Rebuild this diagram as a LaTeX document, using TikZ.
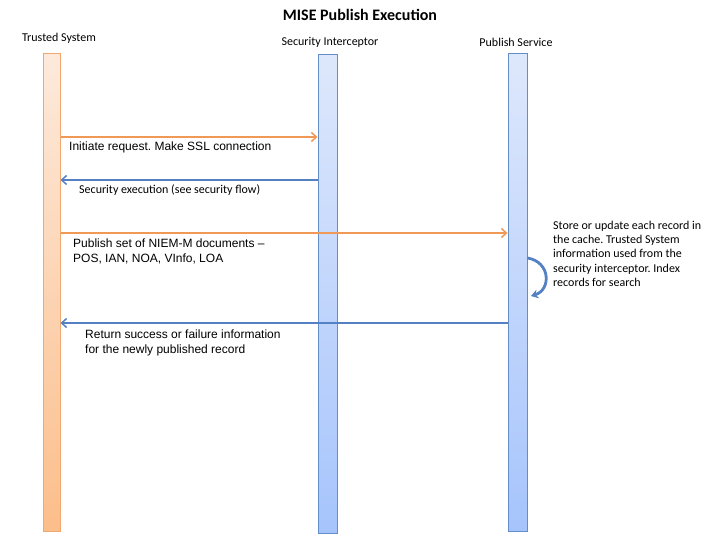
\documentclass[tikz,border=0pt]{standalone}
\usepackage{fontspec}
\setmainfont{Carlito}
\newfontfamily\arialf{Liberation Sans}
\usetikzlibrary{arrows.meta}
\frenchspacing
\definecolor{orln}{RGB}{240,152,86}
\definecolor{blln}{RGB}{84,128,196}
\definecolor{ortop}{RGB}{253,234,220}
\definecolor{orbot}{RGB}{252,190,138}
\definecolor{bltop}{RGB}{222,232,252}
\definecolor{blbot}{RGB}{166,196,252}
\begin{document}
\begin{tikzpicture}[x=1pt,y=-1pt,
  orbar/.style={draw=orln!85,line width=1pt,top color=ortop,bottom color=orbot,minimum width=17pt,inner sep=0pt,anchor=north},
  blbar/.style={draw=blln!90,line width=1pt,top color=bltop,bottom color=blbot,minimum width=19pt,inner sep=0pt,anchor=north},
  ormsg/.style={draw=orln,line width=1.5pt,-{Straight Barb[length=5pt,width=9pt,line width=1.5pt]}},
  blmsg/.style={draw=blln,line width=1.5pt,-{Straight Barb[length=5pt,width=9pt,line width=1.5pt]}},
  lbl/.style={font=\fontsize{12}{14}\selectfont},
  armsg/.style={font=\arialf\fontsize{12}{14.5}\selectfont,anchor=north west,align=left,inner sep=0pt},
  note/.style={font=\fontsize{12}{14.2}\selectfont,anchor=north west,align=left,inner sep=0pt}]
\useasboundingbox (0,0) rectangle (720,540);
\node[font=\bfseries\fontsize{16}{18}\selectfont] (title) at (360,15) {MISE Publish Execution};
\node[lbl] (tsl) at (59,38) {Trusted System};
\node[lbl] (sil) at (330,42) {Security Interceptor};
\node[lbl] (psl) at (516,42) {Publish Service};
\node[orbar,minimum height=478pt] (ts) at (51.5,53) {};
\node[blbar,minimum height=479pt] (si) at (327.5,54) {};
\node[blbar,minimum height=478pt] (ps) at (517.5,53) {};
\draw[ormsg] (ts.east |- 0,137) -- (si.west |- 0,137);
\node[armsg] (m1) at (69,142) {Initiate request. Make SSL connection};
\draw[blmsg] (si.west |- 0,180) -- (ts.east |- 0,180);
\node[note] (m2) at (79,185) {Security execution (see security flow)};
\draw[ormsg] (ts.east |- 0,233) -- (ps.west |- 0,233);
\node[armsg] (m3) at (73,239) {Publish set of NIEM-M documents –\\POS, IAN, NOA, VInfo, LOA};
\draw[blmsg] (ps.west |- 0,323) -- (ts.east |- 0,323);
\node[armsg] (m4) at (85,330) {Return success or failure information\\for the newly published record};
\node[note] (n1) at (553,221) {Store or update each record in\\the cache. Trusted System\\information used from the\\security interceptor. Index\\records for search};
\draw[blln,line width=2.8pt,-{Stealth[length=7pt,width=9pt]}] (ps.east |- 0,258) .. controls (551,262) and (551,290) .. (531,296);
\end{tikzpicture}
\end{document}
